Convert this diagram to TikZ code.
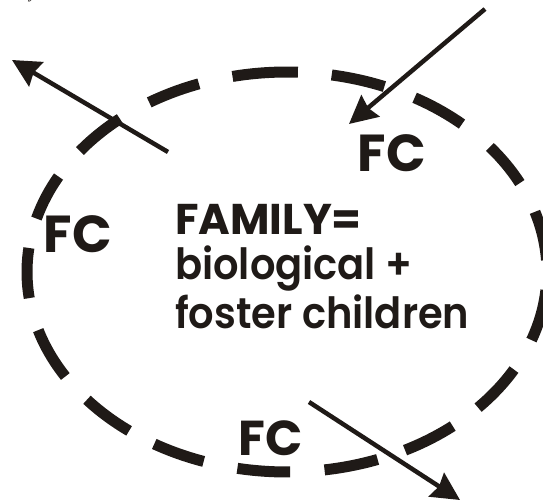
\documentclass[tikz,border=0pt]{standalone}
\usepackage{fontspec}
\setmainfont{Poppins}[BoldFont={* Bold}]
\newfontfamily\popmed{Poppins}[UprightFont={* SemiBold}, FakeStretch=0.93]
\newfontfamily\timesit{Liberation Serif}[UprightFont={* Italic}]
\usetikzlibrary{arrows.meta}
\definecolor{ink}{HTML}{1F1A17}
\tikzset{
  ringdash/.style={draw=ink, line width=11pt, line cap=butt},
  flow/.style={draw=ink, line width=4.5pt, -{Stealth[length=28pt,width=28pt,inset=3pt]}},
  fclabel/.style={text=ink, font=\bfseries\fontsize{52}{52}\selectfont, inner sep=0pt, anchor=base},
  mainbold/.style={text=ink, font=\bfseries\fontsize{43}{47}\selectfont, inner sep=0pt, anchor=base west},
  mainmed/.style={text=ink, font=\popmed\fontsize{43}{47}\selectfont, inner sep=0pt, anchor=base west}
}
\newcommand{\ringpiece}[2]{%
  \draw[ringdash] ([shift={(287,229)}]#1:260 and 200) arc[start angle=#1, end angle=#2, x radius=260, y radius=200];}
\begin{document}
\begin{tikzpicture}[x=1pt,y=1pt]
\useasboundingbox (0,0) rectangle (543,501);
% dashed ring
\ringpiece{109.8}{122.0}
\ringpiece{87.6}{102.1}
\ringpiece{68.0}{80.1}
\ringpiece{47.7}{60.6}
\ringpiece{26.4}{38.7}
\ringpiece{3.4}{17.5}
\ringpiece{-19.9}{-5.2}
\ringpiece{-42.7}{-29.2}
\ringpiece{-63.0}{-50.4}
\ringpiece{-81.7}{-69.6}
\ringpiece{-101.0}{-89.3}
\ringpiece{-120.7}{-108.7}
\ringpiece{-140.3}{-127.4}
\ringpiece{-163.1}{-148.5}
\ringpiece{173.1}{187.5}
\ringpiece{151.5}{164.5}
\ringpiece{130.0}{142.8}
% stray fragment at top (cut off by the edge, as in the original)
\node[text=ink, font=\timesit\fontsize{16}{16}\selectfont, inner sep=0pt, anchor=base] (frag) at (33,502) {y};
% labels
\node[fclabel] (fctr) at (392,329) {FC};
\node[fclabel] (fcl) at (78,248) {FC};
\node[fclabel, font=\bfseries\fontsize{49}{49}\selectfont] (fcb) at (271,46) {FC};
\node[mainbold] (l1) at (175,266) {FAMILY=};
\node[mainmed] (l2) at (175,221) {biological +};
\node[mainmed] (l3) at (175,173) {foster children};
% arrows
\coordinate (a1s) at (168,349);
\coordinate (a1e) at (12,441);
\coordinate (a2s) at (485,492);
\coordinate (a2e) at (349,377);
\coordinate (a3s) at (309,99);
\coordinate (a3e) at (460,1);
\draw[flow] (a1s) -- (a1e);
\draw[flow] (a2s) -- (a2e);
\draw[flow] (a3s) -- (a3e);
\end{tikzpicture}
\end{document}
